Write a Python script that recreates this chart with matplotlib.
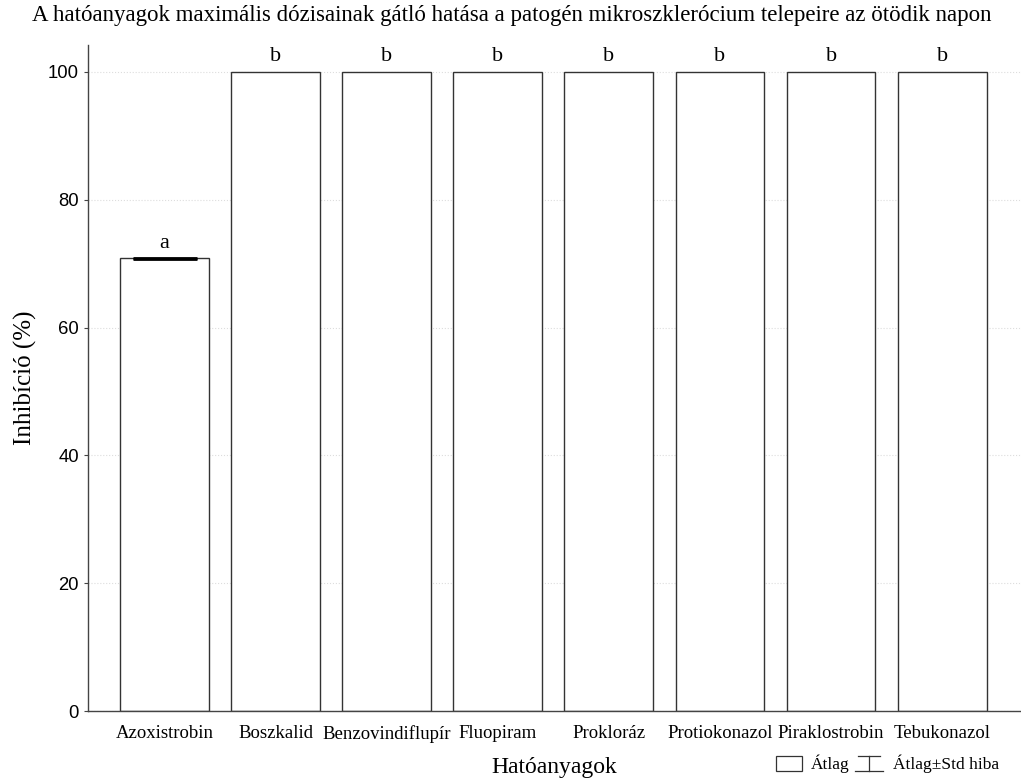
import matplotlib
matplotlib.use("Agg")
import matplotlib.pyplot as plt
from matplotlib.patches import Rectangle
from matplotlib.lines import Line2D
import numpy as np

# data
categories = ['Azoxistrobin', 'Boszkalid', 'Benzovindiflupír', 'Fluopiram',
              'Prokloráz', 'Protiokonazol', 'Piraklostrobin', 'Tebukonazol']
means = [70.8, 100, 100, 100, 100, 100, 100, 100]
std_err = [0.1, 0, 0, 0, 0, 0, 0, 0]
letters = ['a', 'b', 'b', 'b', 'b', 'b', 'b', 'b']
yticks = [0, 20, 40, 60, 80, 100]

serif = 'Liberation Serif'
sans = 'Liberation Sans'

fig = plt.figure(figsize=(10.21, 7.8), dpi=100)
ax = fig.add_axes([88 / 1021, 69 / 780, 1 - 88 / 1021, (711 - 45) / 780])

x = np.arange(len(categories))
ax.bar(x, means, width=0.8, color='white', edgecolor='#333333', linewidth=1.0, zorder=2)

# error bar only where there is some spread
for xi, m, e in zip(x, means, std_err):
    if e > 0:
        ax.errorbar(xi, m, yerr=e, fmt='none', ecolor='black', elinewidth=1.5,
                    capsize=23, capthick=2.0, zorder=3)

for xi, m, lab in zip(x, means, letters):
    ax.text(xi, m + 0.9, lab, ha='center', va='bottom', family=serif, fontsize=16)

ax.set_xlim(-0.69, 7.71)
ax.set_ylim(0, 104.2)
ax.set_yticks(yticks)
ax.set_xticks(x)
ax.set_xticklabels(categories, family=serif, fontsize=13.5)
for t in ax.get_yticklabels():
    t.set_family(sans)
    t.set_fontsize(13.3)

ax.tick_params(axis='x', direction='in', length=3, width=0.8, color='#444444', pad=10)
ax.tick_params(axis='y', direction='out', length=3, width=0.8, color='#444444', pad=3.5)

ax.spines['top'].set_visible(False)
ax.spines['right'].set_visible(False)
for s in ('left', 'bottom'):
    ax.spines[s].set_color('#444444')
    ax.spines[s].set_linewidth(1.0)

ax.set_axisbelow(True)
ax.yaxis.grid(True, linestyle=':', color='#dddddd', linewidth=0.8)

ax.set_ylabel('Inhibíció (%)', family=serif, fontsize=18, labelpad=8)
fig.text(554 / 1021, 1 - 768 / 780, 'Hatóanyagok', family=serif, fontsize=17,
         ha='center', va='center')

fig.text(512 / 1021, 1 - 16 / 780,
         'A hatóanyagok maximális dózisainak gátló hatása a patogén mikroszklerócium telepeire az ötödik napon',
         family=serif, fontsize=16.5, ha='center', va='center')

# legend drawn in figure pixels
W, H = 1021, 780
fig.patches.append(Rectangle((776 / W, 1 - 771 / H), 26 / W, 15 / H, transform=fig.transFigure,
                             facecolor='white', edgecolor='#333333', linewidth=0.9))
fig.text(811 / W, 1 - 764 / H, 'Átlag', family=serif, fontsize=12.5, va='center')
fig.lines.append(Line2D([858 / W, 880 / W], [1 - 756 / H] * 2, transform=fig.transFigure, color='#333333', lw=0.9))
fig.lines.append(Line2D([855 / W, 883 / W], [1 - 771 / H] * 2, transform=fig.transFigure, color='#333333', lw=0.9))
fig.lines.append(Line2D([869 / W] * 2, [1 - 756 / H, 1 - 771 / H], transform=fig.transFigure, color='#333333', lw=0.9))
fig.text(893 / W, 1 - 764 / H, 'Átlag±Std hiba', family=serif, fontsize=12.5, va='center')

fig.savefig('out.png', dpi=100)
